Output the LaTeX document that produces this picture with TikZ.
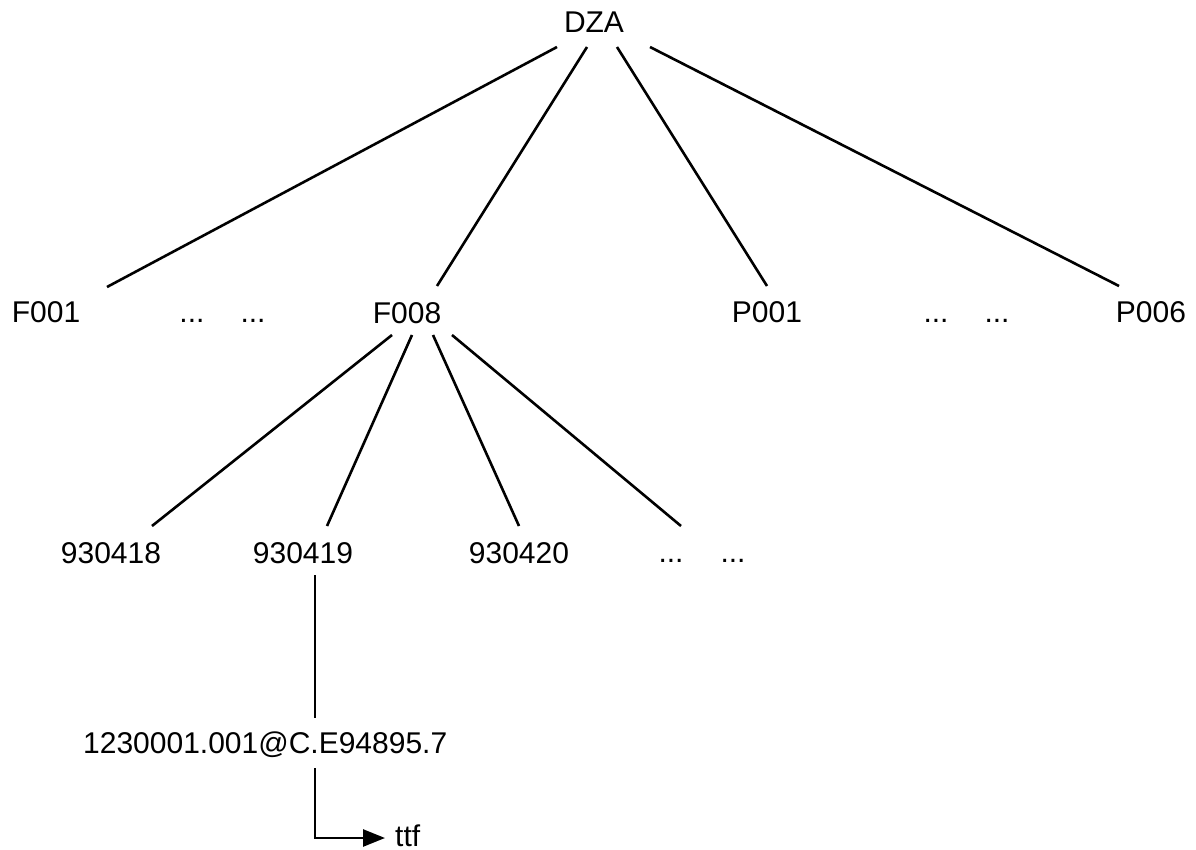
\documentclass[tikz,border=0pt]{standalone}
\usepackage{fontspec}
\setmainfont{Liberation Sans}
\usetikzlibrary{calc,arrows.meta}
\begin{document}
\begin{tikzpicture}[x=1pt,y=-1pt,
  lbl/.style={anchor=base,inner sep=0pt,font=\fontsize{30}{36}\selectfont},
  conn/.style={line width=2.6pt}]
\useasboundingbox (0,0) rectangle (1196,850);
% level 0
\node[lbl] (DZA) at (594,33) {DZA};
% level 1
\node[lbl] (F001) at (46,322) {F001};
\node[lbl] (d1) at (192,322) {...};
\node[lbl] (d2) at (253,322) {...};
\node[lbl] (F008) at (407,323) {F008};
\node[lbl] (P001) at (767,322) {P001};
\node[lbl] (d3) at (936,322) {...};
\node[lbl] (d4) at (997,322) {...};
\node[lbl] (P006) at (1151,322) {P006};
% level 2
\node[lbl] (n418) at (111,563) {930418};
\node[lbl] (n419) at (303,563) {930419};
\node[lbl] (n420) at (519,563) {930420};
\node[lbl] (d5) at (671,562) {...};
\node[lbl] (d6) at (733,562) {...};
% level 3
\node[lbl,anchor=base west] (file) at (83,753) {1230001.001@C.E94895.7};
\node[lbl,anchor=base west] (ttf) at (395,846) {ttf};
% connectors
\draw[conn] ($(DZA.base)+(-37,14)$) -- ($(F001.base)+(61,-35)$);
\draw[conn] ($(DZA.base)+(-7,14)$) -- ($(F008.base)+(30,-37)$);
\draw[conn] ($(DZA.base)+(23,14)$) -- ($(P001.base)+(0,-36)$);
\draw[conn] ($(DZA.base)+(56,14)$) -- ($(P006.base)+(-32,-36)$);
\draw[conn] ($(F008.base)+(-15,12)$) -- ($(n418.base)+(41,-37)$);
\draw[conn] ($(F008.base)+(5,12)$) -- ($(n419.base)+(24,-37)$);
\draw[conn] ($(F008.base)+(26,12)$) -- ($(n420.base)+(0,-37)$);
\draw[conn] ($(F008.base)+(45,12)$) -- ($(d5.base)+(10,-36)$);
\draw[conn] ($(n419.base)+(12,12)$) -- ($(file.base west)+(232,-35)$);
\draw[conn,-{Triangle[length=22pt,width=17pt]}] ($(file.base west)+(232,15)$) |- ($(ttf.base west)+(-10,-8)$);
\end{tikzpicture}
\end{document}
